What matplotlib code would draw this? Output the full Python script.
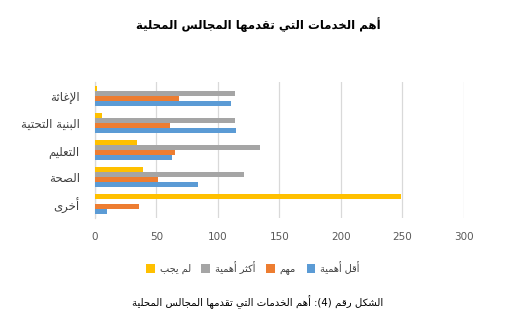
import re
import numpy as np
import matplotlib
matplotlib.use("Agg")
import matplotlib.pyplot as plt
from matplotlib.patches import Patch

# بيانات الرسم
categories = ["أخرى", "الصحة", "التعليم", "البنية التحتية", "الإغاثة"]
series_names = ["أقل أهمية", "مهم", "أكثر أهمية", "لم يجب"]
least_important = [10, 84, 63, 115, 111]
important = [36, 51, 65, 61, 68]
most_important = [0, 121, 134, 114, 114]
no_answer = [249, 39, 34, 6, 2]
x_ticks = [0, 50, 100, 150, 200, 250, 300]

title = "أهم الخدمات التي تقدمها المجالس المحلية"
caption = "الشكل رقم (4): أهم الخدمات التي تقدمها المجالس المحلية"

colors = ["#5B9BD5", "#ED7D31", "#A5A5A5", "#FFC000"]

# matplotlib لا يقوم بتشكيل الحروف العربية، لذلك نحولها يدويا
# إلى أشكال العرض (Presentation Forms-B) ثم نعكس الترتيب
FORMS = {
    '\u0621': (0xFE80, 1), '\u0622': (0xFE81, 2), '\u0623': (0xFE83, 2),
    '\u0624': (0xFE85, 2), '\u0625': (0xFE87, 2), '\u0626': (0xFE89, 4),
    '\u0627': (0xFE8D, 2), '\u0628': (0xFE8F, 4), '\u0629': (0xFE93, 2),
    '\u062A': (0xFE95, 4), '\u062B': (0xFE99, 4), '\u062C': (0xFE9D, 4),
    '\u062D': (0xFEA1, 4), '\u062E': (0xFEA5, 4), '\u062F': (0xFEA9, 2),
    '\u0630': (0xFEAB, 2), '\u0631': (0xFEAD, 2), '\u0632': (0xFEAF, 2),
    '\u0633': (0xFEB1, 4), '\u0634': (0xFEB5, 4), '\u0635': (0xFEB9, 4),
    '\u0636': (0xFEBD, 4), '\u0637': (0xFEC1, 4), '\u0638': (0xFEC5, 4),
    '\u0639': (0xFEC9, 4), '\u063A': (0xFECD, 4), '\u0641': (0xFED1, 4),
    '\u0642': (0xFED5, 4), '\u0643': (0xFED9, 4), '\u0644': (0xFEDD, 4),
    '\u0645': (0xFEE1, 4), '\u0646': (0xFEE5, 4), '\u0647': (0xFEE9, 4),
    '\u0648': (0xFEED, 2), '\u0649': (0xFEEF, 2), '\u064A': (0xFEF1, 4),
}
LAM_ALEF = {'\u0622': 0xFEF5, '\u0623': 0xFEF7, '\u0625': 0xFEF9, '\u0627': 0xFEFB}


def ar(text):
    chars = []
    i = 0
    while i < len(text):
        c = text[i]
        if c == '\u0644' and i + 1 < len(text) and text[i + 1] in LAM_ALEF:
            chars.append((c, LAM_ALEF[text[i + 1]], 2))
            i += 2
            continue
        if c in FORMS:
            base, n = FORMS[c]
            chars.append((c, base, n))
        else:
            chars.append((c, None, 0))
        i += 1
    out = []
    for k, (c, base, n) in enumerate(chars):
        if base is None:
            out.append(c)
            continue
        prev_j = k > 0 and chars[k - 1][2] == 4
        next_j = n == 4 and k + 1 < len(chars) and chars[k + 1][1] is not None
        if n == 1:
            f = 0
        elif n == 2:
            f = 1 if prev_j else 0
        else:
            f = {(False, False): 0, (True, False): 1,
                 (False, True): 2, (True, True): 3}[(prev_j, next_j)]
        out.append(chr(base + f))
    s = "".join(out)[::-1]
    s = s.translate(str.maketrans("()", ")("))
    # الأرقام تبقى من اليسار إلى اليمين
    s = re.sub(r"[0-9]+", lambda m: m.group(0)[::-1], s)
    return s


plt.rcParams['font.family'] = ['DejaVu Sans']

fig = plt.figure(figsize=(5.16, 3.22), dpi=100)
ax = fig.add_axes([0.184, 0.323, 0.715, 0.422])

y = np.arange(len(categories))
h = 0.185
values = [least_important, important, most_important, no_answer]
for k, (vals, col) in enumerate(zip(values, colors)):
    ax.barh(y + (k - 1.5) * h, vals, height=h, color=col, zorder=3)

ax.set_xlim(0, 300)
ax.set_ylim(-0.5, len(categories) - 0.5)
ax.set_xticks(x_ticks)
ax.set_yticks(y)
ax.set_yticklabels([ar(c) for c in categories])
ax.grid(axis='x', color='#D9D9D9', linewidth=0.9, zorder=0)
for side in ['top', 'right', 'bottom']:
    ax.spines[side].set_visible(False)
ax.spines['left'].set_color('#D9D9D9')
ax.spines['left'].set_linewidth(0.9)
ax.tick_params(axis='x', length=0, pad=10, labelsize=7.5, labelcolor='#595959')
ax.tick_params(axis='y', length=0, pad=11, labelsize=8.5, labelcolor='#404040')

fig.text(0.5, 0.925, ar(title), ha='center', va='center',
         fontsize=8.5, fontweight='bold', color='#000000')

# ترتيب المفتاح من اليمين إلى اليسار
handles = [Patch(facecolor=c) for c in colors][::-1]
labels = [ar(n) for n in series_names][::-1]
fig.legend(handles, labels, loc='center', bbox_to_anchor=(0.49, 0.168),
           ncol=4, frameon=False, fontsize=7, handlelength=0.9,
           handleheight=0.9, handletextpad=0.5, columnspacing=1.1,
           labelcolor='#404040')

fig.text(0.5, 0.062, ar(caption), ha='center', va='center',
         fontsize=7.3, color='#000000')

fig.savefig("out.png", dpi=100)
